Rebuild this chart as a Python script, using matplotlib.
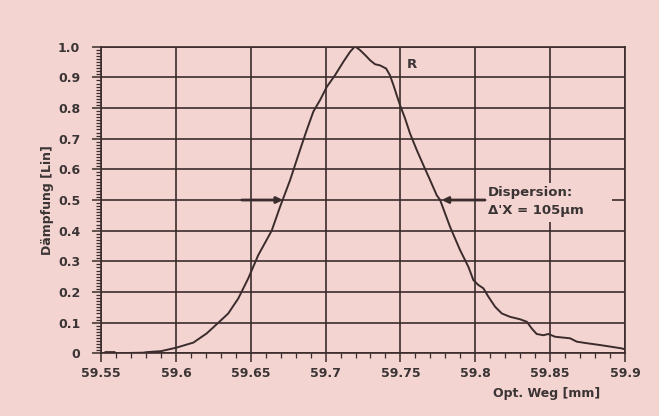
import numpy as np
import matplotlib.pyplot as plt
import matplotlib.patches as mpatches
from matplotlib.ticker import MultipleLocator, FixedLocator

# measured attenuation vs. optical path (nan = gap in the trace)
weg = [59.553, 59.559, np.nan,
       59.567, 59.578, 59.581, 59.590, 59.600, 59.6117, 59.6206, 59.6273,
       59.635, 59.6384, 59.6417, 59.6484, 59.655, 59.664, 59.6696,
       59.6763, 59.6829, 59.6874, 59.6918, 59.6963, 59.7008, 59.7063,
       59.7119, 59.7163, 59.719, 59.720,
       59.723, 59.7264, 59.7297, 59.733, 59.7364, 59.7404, 59.743,
       59.7453, 59.7475, 59.7497, 59.7531, 59.7564, 59.7609, 59.7653,
       59.7698, 59.7742, 59.7765, 59.7831, 59.7898, 59.7954, 59.7987,
       59.802, 59.8054, 59.8087, 59.8132, 59.8177, 59.8232, 59.8299,
       59.8344, 59.8377, 59.841, 59.8455, 59.8488, 59.8533, 59.8633,
       59.8678, 59.8744, 59.8833, 59.890, 59.8978, 59.900]
daempfung = [0.004, 0.004, np.nan,
             0.001, 0.002, 0.004, 0.007, 0.018, 0.035, 0.065, 0.095,
             0.130, 0.155, 0.179, 0.245, 0.320, 0.400, 0.478,
             0.565, 0.663, 0.728, 0.788, 0.826, 0.869, 0.907,
             0.951, 0.983, 0.998, 1.000,
             0.989, 0.973, 0.956, 0.943, 0.939, 0.929, 0.907,
             0.875, 0.842, 0.810, 0.766, 0.717, 0.663, 0.614,
             0.565, 0.516, 0.500, 0.413, 0.337, 0.282, 0.239,
             0.223, 0.212, 0.185, 0.152, 0.130, 0.119, 0.111,
             0.103, 0.081, 0.063, 0.059, 0.063, 0.054, 0.049,
             0.038, 0.033, 0.027, 0.022, 0.016, 0.013]

x_ticks = [59.55, 59.6, 59.65, 59.7, 59.75, 59.8, 59.85, 59.9]
x_labels = ["59.55", "59.6", "59.65", "59.7", "59.75", "59.8", "59.85", "59.9"]
y_ticks = [0, 0.1, 0.2, 0.3, 0.4, 0.5, 0.6, 0.7, 0.8, 0.9, 1.0]
y_labels = ["0", "0.1", "0.2", "0.3", "0.4", "0.5", "0.6", "0.7", "0.8", "0.9", "1.0"]

# half-width markers at 0.5
left_arrow = (59.644, 59.6715)
right_arrow = (59.8065, 59.7776)
half = 0.5

bg = "#f4d4d1"
ink = "#3a2c2c"
txt = "#3a3434"

plt.rcParams["font.family"] = ["DejaVu Sans"]
plt.rcParams["font.weight"] = "bold"
plt.rcParams["axes.labelweight"] = "bold"

fig = plt.figure(figsize=(6.59, 4.16), dpi=100, facecolor=bg)
ax = fig.add_axes([0.1533, 0.1507, 0.7951, 0.737], facecolor=bg)

ax.plot(weg, daempfung, color=ink, lw=1.4, zorder=3)

ax.set_xlim(59.55, 59.9)
ax.set_ylim(0, 1.0)

ax.xaxis.set_major_locator(FixedLocator(x_ticks))
ax.set_xticklabels(x_labels)
ax.xaxis.set_minor_locator(MultipleLocator(0.01))
ax.yaxis.set_major_locator(FixedLocator(y_ticks))
ax.set_yticklabels(y_labels)
ax.yaxis.set_minor_locator(MultipleLocator(0.01))

ax.grid(True, which="major", color=ink, lw=1.2, zorder=1)
ax.set_axisbelow(True)
for s in ax.spines.values():
    s.set_color(ink)
    s.set_linewidth(1.2)

ax.tick_params(which="major", direction="out", length=6.5, width=1.1,
               color=ink, labelsize=9, labelcolor=txt)
ax.tick_params(which="minor", direction="out", length=3.5, width=0.9,
               color=ink)
ax.tick_params(axis="y", which="major", pad=8.5)
ax.tick_params(axis="x", which="major", pad=3.5)

ax.set_ylabel("Dämpfung [Lin]", fontsize=9, color=txt, labelpad=3)
ax.set_xlabel("Opt. Weg [mm]", fontsize=9, color=txt, labelpad=5,
              loc="right")
ax.xaxis.label.set_x(0.952)

# blank area behind the dispersion note
ax.add_patch(mpatches.Rectangle((59.807, 0.429), 0.084, 0.125,
                                facecolor=bg, edgecolor="none", zorder=2))

arrow_style = dict(arrowstyle="-|>", color=ink, lw=2.0,
                   mutation_scale=9, shrinkA=0, shrinkB=0)
ax.annotate("", xy=(left_arrow[1], half), xytext=(left_arrow[0], half),
            arrowprops=arrow_style, zorder=4)
ax.annotate("", xy=(right_arrow[1], half), xytext=(right_arrow[0], half),
            arrowprops=arrow_style, zorder=4)

ax.text(59.8085, 0.524, "Dispersion:", fontsize=9.5, color=txt,
        va="center", ha="left", zorder=5)
ax.text(59.8085, 0.465, "Δ'X = 105μm", fontsize=9.5, color=txt,
        va="center", ha="left", zorder=5)
ax.text(59.754, 0.941, "R", fontsize=9.5, color=txt, va="center",
        ha="left", zorder=5)

fig.savefig("out.png", dpi=100, facecolor=bg)
